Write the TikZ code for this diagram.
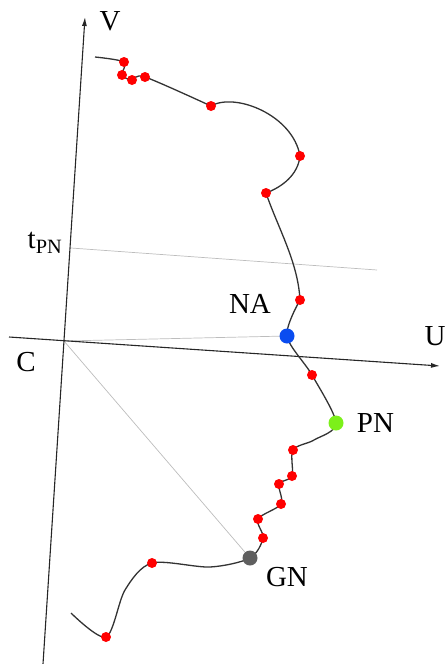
\documentclass[tikz,border=0pt]{standalone}
\usepackage{fontspec}
\setmainfont{Liberation Serif}
\usetikzlibrary{arrows.meta,positioning}
\definecolor{DotRed}{HTML}{FF0000}
\definecolor{DotBlue}{HTML}{0A4CF0}
\definecolor{DotGreen}{HTML}{7CF01A}
\definecolor{DotGrey}{HTML}{5F5F5F}
\definecolor{Guide}{HTML}{BDBDBD}

\begin{document}
\begin{tikzpicture}[x=1pt,y=-1pt,
    axis/.style={-{Latex[length=9pt,width=5pt]},line width=1.1pt,color=black!85},
    guide/.style={line width=0.7pt,color=Guide},
    traj/.style={line width=1.3pt,color=black!80},
    pt/.style={circle,fill=DotRed,inner sep=0pt,minimum size=10pt},
    key/.style={circle,inner sep=0pt,minimum size=15pt},
    lbl/.style={font=\fontsize{29}{32}\selectfont,inner sep=1pt}
  ]
  \useasboundingbox (0,0) rectangle (446,664);
  % axes
  \coordinate (vs) at (43,664);
  \coordinate (vt) at (85,17);
  \coordinate (us) at (9,337);
  \coordinate (ut) at (440,366);
  \coordinate (c) at (64,341);
  \coordinate (tpn) at (71,248);
  \coordinate (tend) at (377,270);
  % points of the trajectory
  \coordinate (s) at (95,57);
  \coordinate (r1) at (124,62);
  \coordinate (r2) at (122,75);
  \coordinate (r3) at (132,80);
  \coordinate (r4) at (145,77);
  \coordinate (r5) at (211,106);
  \coordinate (r6) at (300,156);
  \coordinate (r7) at (266,193);
  \coordinate (r8) at (300,300);
  \coordinate (na) at (287,336);
  \coordinate (r9) at (312,375);
  \coordinate (pn) at (336,423);
  \coordinate (r10) at (293,450);
  \coordinate (r11) at (292,476);
  \coordinate (r12) at (279,484);
  \coordinate (r13) at (281,504);
  \coordinate (r14) at (258,519);
  \coordinate (r15) at (263,538);
  \coordinate (gn) at (250,558);
  \coordinate (r16) at (152,563);
  \coordinate (r17) at (106,637);
  \coordinate (e) at (71,613);

  \draw[guide] (tpn) -- (tend);
  \draw[guide] (c) -- (na);
  \draw[guide] (c) -- (gn);
  \draw[axis] (vs) -- (vt);
  \draw[axis] (us) -- (ut);

  \draw[traj] plot[smooth,tension=0.5] coordinates {(s) (r1) (r2) (r3) (r4) (r5)};
  \draw[traj] (r5) .. controls (235,92) and (293,115) .. (r6)
    .. controls (298,175) and (282,187) .. (r7)
    .. controls (278,228) and (298,262) .. (r8);
  \draw[traj] plot[smooth,tension=0.5] coordinates {(r8) (na) (r9) (pn) (314,440)
    (r10) (r11) (r12) (r13) (r14) (r15) (gn) (210,567) (r16) (125,590) (r17) (e)};

  \foreach \p in {r1,r2,r3,r4,r5,r6,r7,r8,r9,r10,r11,r12,r13,r14,r15,r16,r17}
    \node[pt] (d\p) at (\p) {};
  \node[key,fill=DotBlue] (dna) at (na) {};
  \node[key,fill=DotGreen] (dpn) at (pn) {};
  \node[key,fill=DotGrey] (dgn) at (gn) {};

  \node[lbl] (vlab) at (110,21) {V};
  \node[lbl] (ulab) at (435,336) {U};
  \node[lbl] (clab) at (26,362) {C};
  \node[lbl] (tlab) at (45,243) {t\textsubscript{PN}};
  \node[lbl] (nalab) at (250,304) {NA};
  \node[lbl,right=12pt of dpn] (pnlab) {PN};
  \node[lbl] (gnlab) at (287,577) {GN};
\end{tikzpicture}
\end{document}
